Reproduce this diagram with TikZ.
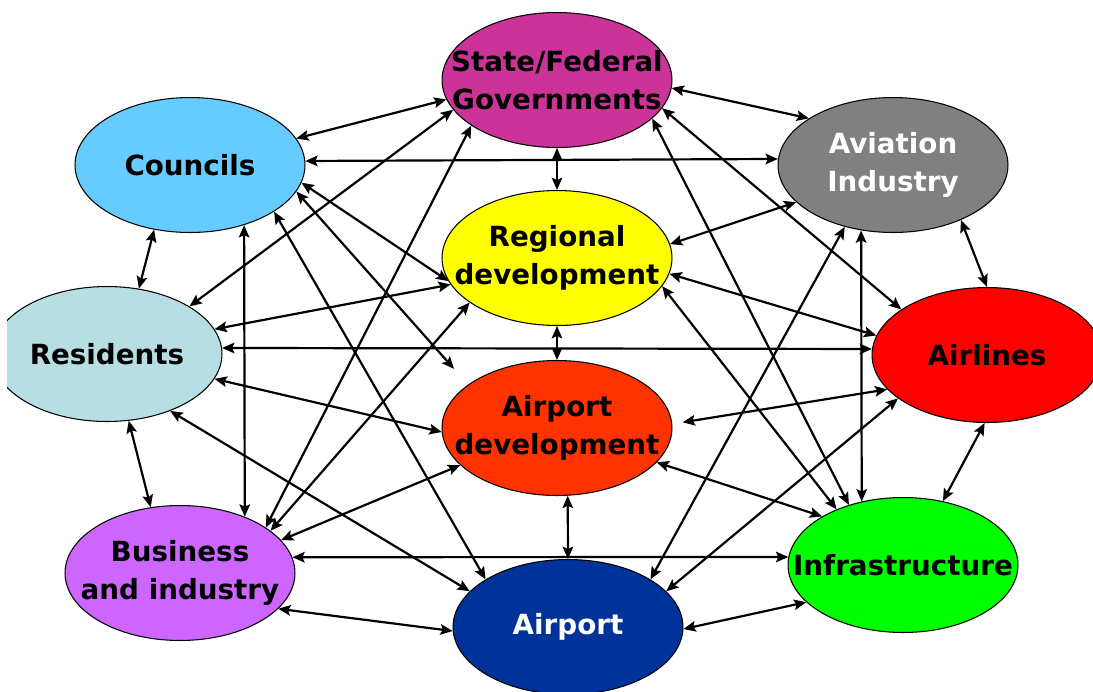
\documentclass[tikz,border=0pt]{standalone}
\usepackage{fontspec}
\setmainfont{DejaVu Sans}
\usetikzlibrary{arrows.meta,shapes.geometric}
\definecolor{cStat}{RGB}{204,51,153}
\definecolor{cCoun}{RGB}{102,204,255}
\definecolor{cAvia}{RGB}{128,128,128}
\definecolor{cRegi}{RGB}{255,255,0}
\definecolor{cResi}{RGB}{183,222,226}
\definecolor{cAirl}{RGB}{255,0,0}
\definecolor{cAdev}{RGB}{255,51,0}
\definecolor{cBusi}{RGB}{204,102,255}
\definecolor{cInfr}{RGB}{0,255,0}
\definecolor{cAirp}{RGB}{0,51,153}
\tikzset{
  blob/.style={ellipse, draw=black, line width=0.6pt, inner sep=0pt,
    minimum width=4.6cm, minimum height=2.7cm},
  lab/.style={font=\bfseries\fontsize{15.8}{21.5}\selectfont, align=center, inner sep=0pt},
  conn/.style={line width=1.25pt, black, <->,
    >={Stealth[length=7pt,width=6pt,inset=1.3pt]}}
}
\begin{document}
\begin{tikzpicture}[x=0.02cm,y=-0.02cm]
\useasboundingbox (0,0) rectangle (1093,691);
\clip (7,0) rectangle (1093,691);
% nodes
\node[blob, fill=cStat, label={[lab]center:State/Federal\\Governments}] (st) at (557,80) {};
\node[blob, fill=cCoun, label={[lab]center:Councils}] (co) at (190,165) {};
\node[blob, fill=cAvia, label={[lab,text=white]center:Aviation\\Industry}] (av) at (893,165) {};
\node[blob, fill=cRegi, label={[lab]center:Regional\\development}] (re) at (557,258) {};
\node[blob, fill=cResi, label={[lab]center:Residents}] (rs) at (107,354) {};
\node[blob, fill=cAirl, label={[lab]center:Airlines}] (al) at (987,355) {};
\node[blob, fill=cAdev, label={[lab]center:Airport\\development}] (ad) at (557,428) {};
\node[blob, fill=cBusi, label={[lab]center:Business\\and industry}] (bu) at (180,573) {};
\node[blob, fill=cInfr, label={[lab]center:Infrastructure}] (in) at (903,565) {};
\node[blob, fill=cAirp, label={[lab,text=white]center:Airport}] (ap) at (568,627) {};
% connectors
\draw[conn] (co.14.3) -- (st.190);
\draw[conn] (co.2.5) -- (av.177.5);
\draw[conn] (st.-4) -- (av.151);
\draw[conn] (st.-90) -- (re.90);
\draw[conn] (co.-9.5) -- (re.192.5);
\draw[conn, shorten >=12pt] (co.-14.7) -- (ad.154.5);
\draw[conn] (co.-29.5) -- (ap.150);
\draw[conn] (co.-48.5) -- (bu.41.9);
\draw[conn] (co.241) -- (rs.64.1);
\draw[conn] (rs.30) -- (st.196.4);
\draw[conn] (rs.13.7) -- (re.194.3);
\draw[conn] (rs.3) -- (al.177);
\draw[conn] (rs.-13) -- (ad.182);
\draw[conn] (rs.-42.2) -- (ap.160);
\draw[conn] (rs.-72) -- (bu.114.5);
\draw[conn] (bu.28.9) -- (st.208.4);
\draw[conn] (bu.25.4) -- (re.207.3);
\draw[conn] (bu.18.4) -- (ad.201);
\draw[conn] (bu.8) -- (in.176);
\draw[conn] (bu.-20.2) -- (ap.182.5);
\draw[conn] (st.-15.7) -- (al.152.2);
\draw[conn] (st.-22.8) -- (in.132);
\draw[conn] (re.7.3) -- (av.201.4);
\draw[conn] (re.-8.3) -- (al.170.5);
\draw[conn] (re.-90) -- (ad.90);
\draw[conn] (re.-15.7) -- (in.140);
\draw[conn] (av.-39) -- (al.90);
\draw[conn] (av.244.5) -- (in.123);
\draw[conn] (av.232) -- (ap.30.5);
\draw[conn, shorten >=6pt] (al.199) -- (ad.2.7);
\draw[conn] (al.206.3) -- (ap.20);
\draw[conn] (al.268.4) -- (in.58.4);
\draw[conn] (ad.-19) -- (in.149.5);
\draw[conn] (ad.279.3) -- (ap.90);
\draw[conn] (ap.-1.5) -- (in.201.3);
\end{tikzpicture}
\end{document}
